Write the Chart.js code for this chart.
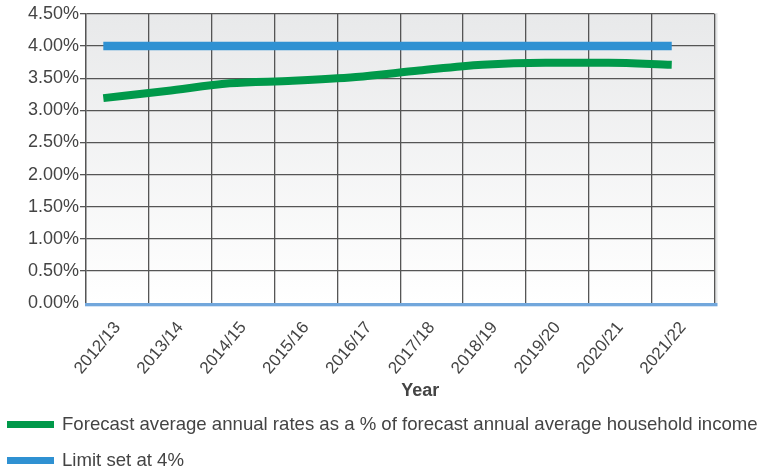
<!DOCTYPE html>
<html>
<head>
<meta charset="utf-8">
<title>Forecast average annual rates</title>
<script src="https://cdn.jsdelivr.net/npm/chart.js@4.4.1/dist/chart.umd.min.js"></script>
<style>
  html, body { margin: 0; padding: 0; background: #ffffff; }
  #wrap { position: relative; width: 769px; height: 466px; overflow: hidden; }
  #chart { position: absolute; left: 0; top: 0; }
  .key { position: absolute; left: 7px; height: 20px; display: flex; align-items: center;
         font: 18.6px "Liberation Sans", Arial, sans-serif; color: #444444; white-space: nowrap; }
  .key i { display: inline-block; width: 47px; height: 7px; margin-right: 8px; }
</style>
</head>
<body>
<div id="wrap">
  <canvas id="chart" width="769" height="466"></canvas>
  <div class="key" style="top:414px"><i style="background:#00994a"></i><span id="k1"></span></div>
  <div class="key" style="top:450px"><i style="background:#2f91d2"></i><span id="k2"></span></div>
</div>
<script>
// Financial years on the horizontal axis
const categories = ['2012/13', '2013/14', '2014/15', '2015/16', '2016/17',
                    '2017/18', '2018/19', '2019/20', '2020/21', '2021/22'];

// Forecast average annual rates as a % of household income
const ratePercent = [3.19, 3.30, 3.42, 3.46, 3.52, 3.62, 3.71, 3.74, 3.74, 3.71];

// Affordability limit (%)
const limitPercent = [4, 4, 4, 4, 4, 4, 4, 4, 4, 4];

// Vertical axis ticks (%)
const yTicks = [0, 0.5, 1, 1.5, 2, 2.5, 3, 3.5, 4, 4.5];

const seriesNames = [
  'Forecast average annual rates as a % of forecast annual average household income',
  'Limit set at 4%'
];
const axisTitle = 'Year';

document.getElementById('k1').textContent = seriesNames[0];
document.getElementById('k2').textContent = seriesNames[1];

const FONT = '"Liberation Sans", Arial, sans-serif';
const GRID = '#555555';

// Plot background: soft grey fading to white, with a thin shadow on the right edge
const plotBackground = {
  id: 'plotBackground',
  beforeDraw(chart) {
    const { ctx, chartArea: a } = chart;
    ctx.save();
    ctx.fillStyle = '#e4e5e6';
    ctx.fillRect(a.right, a.top - 1, 3, a.bottom - a.top + 1);
    const g = ctx.createLinearGradient(0, a.top, 0, a.bottom);
    g.addColorStop(0, '#e8e9ea');
    g.addColorStop(1, '#ffffff');
    ctx.fillStyle = g;
    ctx.fillRect(a.left, a.top, a.right - a.left, a.bottom - a.top);
    ctx.restore();
  }
};

// Horizontal-axis title, plus the light blue base line under the plot
const axisDecor = {
  id: 'axisDecor',
  afterDatasetsDraw(chart) {
    const { ctx, chartArea: a } = chart;
    ctx.save();
    ctx.fillStyle = '#72a7dc';
    ctx.fillRect(a.left - 1, a.bottom, a.right - a.left + 4, 3.3);
    ctx.restore();
  },
  afterDraw(chart) {
    const { ctx, chartArea: a } = chart;
    ctx.save();
    ctx.font = 'bold 18px ' + FONT;
    ctx.fillStyle = '#444444';
    ctx.textAlign = 'center';
    ctx.textBaseline = 'middle';
    ctx.fillText(axisTitle, (a.left + a.right) / 2 + 20, 391);
    ctx.restore();
  }
};

const toPoints = vals => vals.map((v, i) => ({ x: i, y: v }));

new Chart(document.getElementById('chart'), {
  type: 'line',
  data: {
    datasets: [
      {
        label: seriesNames[1],
        data: toPoints(limitPercent),
        xAxisID: 'xl',
        borderColor: '#2f91d2',
        borderWidth: 8.5,
        borderCapStyle: 'butt',
        pointRadius: 0,
        tension: 0
      },
      {
        label: seriesNames[0],
        data: toPoints(ratePercent),
        xAxisID: 'xl',
        borderColor: '#00994a',
        borderWidth: 8,
        borderCapStyle: 'butt',
        borderJoinStyle: 'round',
        pointRadius: 0,
        cubicInterpolationMode: 'monotone'
      }
    ]
  },
  options: {
    responsive: false,
    animation: false,
    layout: { padding: { left: 0, top: 14, right: 54.5, bottom: 0 } },
    plugins: { legend: { display: false }, tooltip: { enabled: false } },
    scales: {
      x: {
        type: 'category',
        labels: categories,
        offset: true,
        grid: { offset: true, color: GRID, lineWidth: 1.3, drawTicks: false },
        border: { display: false },
        ticks: {
          autoSkip: false, minRotation: 50, maxRotation: 50, padding: 15,
          color: '#444444', font: { family: FONT, size: 17 }
        },
        afterFit(scale) { scale.height = 163; }
      },
      xl: {
        type: 'linear',
        display: false,
        min: -0.274,
        max: 9.677
      },
      y: {
        min: 0,
        max: 4.5,
        afterBuildTicks(scale) { scale.ticks = yTicks.map(v => ({ value: v })); },
        grid: {
          color: ctx => (ctx.tick && ctx.tick.value === 0 ? 'rgba(0,0,0,0)' : GRID),
          lineWidth: 1.3,
          tickLength: 6
        },
        border: { color: GRID, width: 1.3 },
        ticks: {
          padding: 1,
          color: '#444444',
          font: { family: FONT, size: 18 },
          callback: v => Number(v).toFixed(2) + '%'
        },
        afterFit(scale) { scale.width = 86; }
      }
    }
  },
  plugins: [plotBackground, axisDecor]
});
</script>
</body>
</html>
